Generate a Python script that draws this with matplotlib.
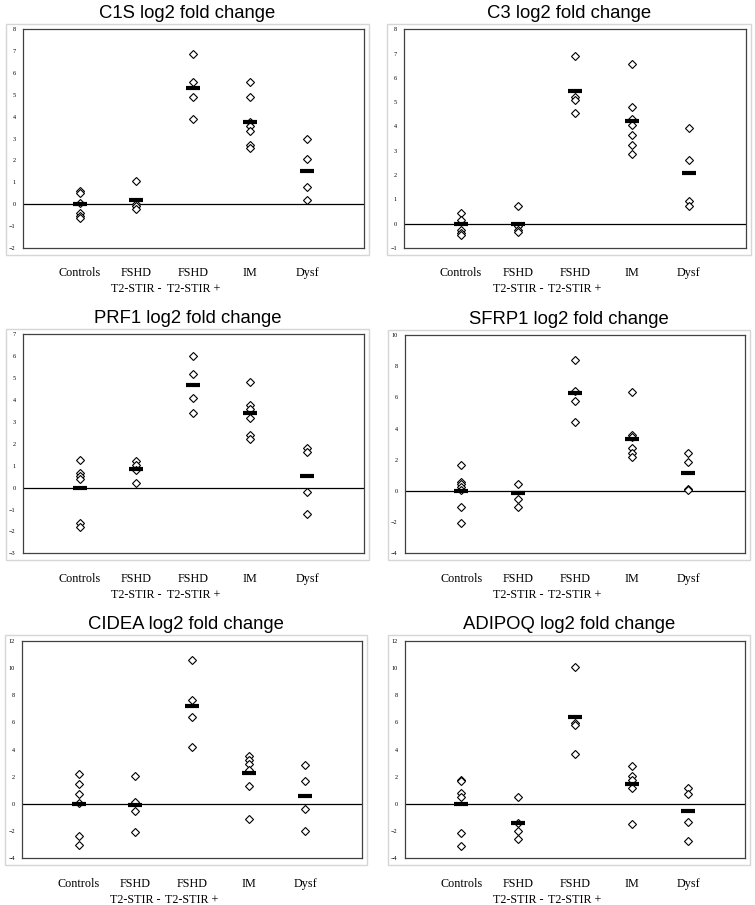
import matplotlib
matplotlib.use("Agg")
import matplotlib.pyplot as plt
from matplotlib.patches import Rectangle

W, H = 755, 905

categories = ["Controls", "FSHD\nT2-STIR -", "FSHD\nT2-STIR +", "IM", "Dysf"]

# individual log2 fold change values per group
c1s_values = [[0.6, 0.5, 0.05, -0.4, -0.55, -0.65],
              [1.04, 0.0, -0.1, -0.23],
              [6.88, 5.6, 4.9, 3.89],
              [5.59, 4.88, 3.75, 3.55, 3.35, 2.7, 2.55],
              [3.0, 2.07, 0.78, 0.17]]
c1s_means = [0.0, 0.18, 5.3, 3.76, 1.51]

c3_values = [[0.44, 0.16, -0.25, -0.38, -0.48],
             [0.73, -0.11, -0.25, -0.36],
             [6.9, 5.23, 5.07, 4.55],
             [6.58, 4.79, 4.3, 4.07, 3.63, 3.22, 2.86],
             [3.92, 2.62, 0.95, 0.74]]
c3_means = [0.0, -0.02, 5.47, 4.22, 2.07]

prf1_values = [[1.25, 0.68, 0.55, 0.38, -1.63, -1.78],
               [1.22, 1.03, 0.8, 0.2],
               [6.01, 5.19, 4.11, 3.39],
               [4.82, 3.76, 3.58, 3.17, 2.4, 2.2],
               [1.8, 1.64, -0.2, -1.19]]
prf1_means = [0.0, 0.84, 4.67, 3.39, 0.52]

sfrp1_values = [[1.67, 0.6, 0.43, 0.24, 0.06, -1.0, -2.03],
                [0.47, -0.51, -1.05],
                [8.4, 6.43, 5.77, 4.4],
                [6.37, 3.59, 3.44, 2.74, 2.46, 2.16],
                [2.41, 1.84, 0.15, 0.06]]
sfrp1_means = [0.0, -0.15, 6.26, 3.31, 1.13]

cidea_values = [[2.18, 1.45, 0.74, 0.05, -2.33, -3.01],
                [2.08, 0.17, -0.51, -2.1],
                [10.6, 7.62, 6.4, 4.2],
                [3.55, 3.23, 2.94, 2.5, 1.35, -1.08],
                [2.87, 1.72, -0.37, -2.0]]
cidea_means = [0.0, -0.07, 7.23, 2.25, 0.59]

adipoq_values = [[1.76, 1.69, 0.78, 0.54, -2.16, -3.09],
                 [0.51, -1.37, -1.99, -2.57],
                 [10.1, 5.98, 5.81, 3.65],
                 [2.77, 2.08, 1.76, 1.15, -1.47],
                 [1.2, 0.74, -1.3, -2.7]]
adipoq_means = [0.0, -1.37, 6.4, 1.47, -0.49]

panels = [
    ("C1S log2 fold change", c1s_values, c1s_means, (-2, 8, 1), (22.7, 29.3, 364, 247.7)),
    ("C3 log2 fold change", c3_values, c3_means, (-1, 8, 1), (404, 29.3, 746, 248)),
    ("PRF1 log2 fold change", prf1_values, prf1_means, (-3, 7, 1), (22.7, 334.3, 364, 553.3)),
    ("SFRP1 log2 fold change", sfrp1_values, sfrp1_means, (-4, 10, 2), (404.7, 335, 745, 553.3)),
    ("CIDEA log2 fold change", cidea_values, cidea_means, (-4, 12, 2), (22, 640.7, 362, 858.3)),
    ("ADIPOQ log2 fold change", adipoq_values, adipoq_means, (-4, 12, 2), (404.7, 640.7, 745, 858.3)),
]

fig = plt.figure(figsize=(W / 100, H / 100), dpi=100)

for title, values, means, (ymin, ymax, step), (l, t, r, b) in panels:
    ax = fig.add_axes([l / W, 1 - b / H, (r - l) / W, (b - t) / H])
    # light grey chart-area frame
    fl, ft, fr, fb = l - 17, t - 5.5, r + 5, b + 7
    fig.patches.append(Rectangle((fl / W, 1 - fb / H), (fr - fl) / W, (fb - ft) / H,
                                 transform=fig.transFigure, fill=False,
                                 edgecolor="#d6d6d6", linewidth=1.0, zorder=0))
    fig.text((fl + fr) / 2 / W, 1 - (t - 16) / H, title, ha="center", va="center",
             fontsize=13.3, family="Liberation Sans")

    for i, vals in enumerate(values):
        ax.plot([i + 1] * len(vals), vals, linestyle="none", marker="D", markersize=3.8,
                markerfacecolor="white", markeredgecolor="black", markeredgewidth=0.8,
                zorder=3)
    ax.plot(range(1, len(means) + 1), means, linestyle="none", marker="_", markersize=10,
            markeredgewidth=3, color="black", zorder=4)
    ax.axhline(0, color="black", linewidth=0.9, zorder=2)

    ax.set_xlim(0, 6)
    ax.set_ylim(ymin, ymax)
    ax.set_yticks(range(ymin, ymax + 1, step))
    ax.set_xticks(range(1, 6))
    ax.set_xticklabels(categories, family="Liberation Serif", fontsize=8.7,
                       linespacing=1.45, va="top")
    ax.tick_params(axis="x", length=0, pad=14)
    ax.tick_params(axis="y", length=0, pad=5, labelsize=4.5)
    for lab in ax.get_yticklabels():
        lab.set_family("Liberation Serif")
    for sp in ax.spines.values():
        sp.set_color("#404040")
        sp.set_linewidth(0.9)

fig.savefig("out.png", dpi=100)
